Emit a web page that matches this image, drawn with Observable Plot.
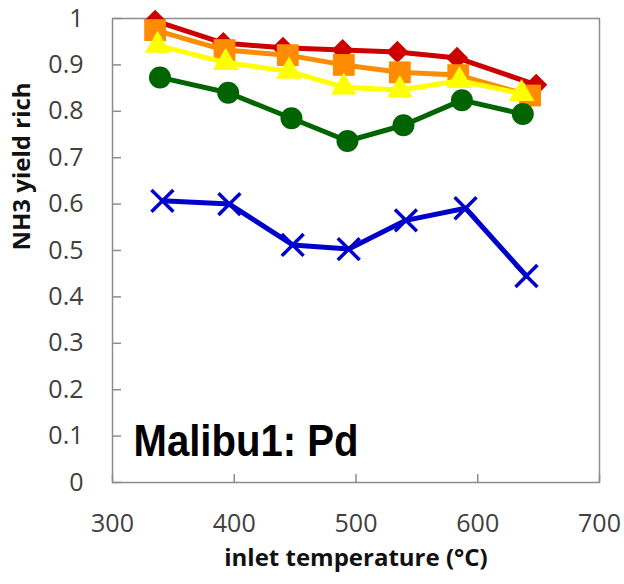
<!DOCTYPE html>
<html>
<head>
<meta charset="utf-8">
<script src="https://cdn.jsdelivr.net/npm/d3@7"></script>
<script src="https://cdn.jsdelivr.net/npm/@observablehq/plot@0.6"></script>
<style>
  html, body { margin: 0; padding: 0; background: #fff; }
</style>
</head>
<body>
<div id="chart"></div>
<script>
// ---- data ----
const xTicks = [300, 400, 500, 600, 700];
const yTicks = [0, 0.1, 0.2, 0.3, 0.4, 0.5, 0.6, 0.7, 0.8, 0.9, 1];

const redX    = [335, 391, 440, 489, 534, 583, 648];
const redY    = [0.995, 0.947, 0.937, 0.932, 0.928, 0.915, 0.857];
const orangeX = [335, 392, 444, 490, 536, 584, 643];
const orangeY = [0.975, 0.932, 0.921, 0.900, 0.884, 0.878, 0.834];
const yellowX = [337, 393, 445, 490, 536, 585, 636];
const yellowY = [0.942, 0.905, 0.886, 0.852, 0.846, 0.866, 0.838];
const greenX  = [339, 395, 447, 493, 539, 587, 637];
const greenY  = [0.873, 0.840, 0.785, 0.736, 0.770, 0.824, 0.794];
const blueX   = [341, 396, 448, 494, 541, 590, 640];
const blueY   = [0.607, 0.600, 0.512, 0.503, 0.565, 0.591, 0.445];

const xLabel = "inlet temperature (°C)";
const yLabel = "NH3 yield rich";
const annotation = "Malibu1: Pd";

// ---- build ----
const rows = (xs, ys) => xs.map((x, i) => ({x, y: ys[i]}));
const series = [
  {data: rows(redX, redY),       color: "#cc0000", symbol: "diamond2", r: 10,  filled: true},
  {data: rows(orangeX, orangeY), color: "#ff8c00", symbol: "square",   r: 12.3, filled: true},
  {data: rows(yellowX, yellowY), color: "#ffff00", symbol: "triangle", r: 9.5, filled: true},
  {data: rows(greenX, greenY),   color: "#006400", symbol: "circle",   r: 11,  filled: true},
  {data: rows(blueX, blueY),     color: "#0000cc", symbol: "times",    r: 10,  filled: false}
];

const marks = [];
for (const s of series) {
  marks.push(Plot.line(s.data, {x: "x", y: "y", stroke: s.color, strokeWidth: 5}));
  marks.push(Plot.dot(s.data, s.filled
    ? {x: "x", y: "y", symbol: s.symbol, r: s.r, fill: s.color, stroke: "none"}
    : {x: "x", y: "y", symbol: s.symbol, r: s.r, fill: "none", stroke: s.color, strokeWidth: 3.5}));
}

const chart = Plot.plot({
  width: 624,
  height: 584,
  marginLeft: 112,
  marginRight: 25,
  marginTop: 18,
  marginBottom: 102,
  style: "font-family: 'Open Sans', sans-serif; font-size: 25px; color: #404040; background: #fff; overflow: visible;",
  x: {domain: [300, 700]},
  y: {domain: [0, 1]},
  marks: [
    // tick labels
    Plot.axisY(yTicks, {anchor: "left", tickSize: 0, tickPadding: 29, fill: "#404040",
      fontSize: 25, tickFormat: d => String(+d.toFixed(1)), label: null}),
    Plot.axisX(xTicks, {anchor: "bottom", tickSize: 0, tickPadding: 32, fill: "#404040",
      fontSize: 25, tickFormat: d => String(d), label: null}),
    // inward tick marks
    Plot.axisY(yTicks, {anchor: "left", tickSize: 9, dx: 9, stroke: "#8c8c8c", strokeWidth: 1.5,
      tickFormat: () => "", label: null}),
    Plot.axisX(xTicks, {anchor: "bottom", tickSize: 8, dy: -8, stroke: "#8c8c8c", strokeWidth: 1.5,
      tickFormat: () => "", label: null}),
    Plot.frame({stroke: "#8c8c8c", strokeWidth: 1.5}),
    ...marks,
    Plot.text([annotation], {frameAnchor: "bottom-left", text: d => d, dx: 21, dy: -27,
      textAnchor: "start", lineAnchor: "bottom", fontFamily: "'Liberation Sans', Arial, sans-serif",
      fontWeight: "bold", fontSize: 44, fill: "#000"}),
    Plot.text([xLabel], {frameAnchor: "bottom", text: d => d, dy: 83, lineAnchor: "bottom",
      fontWeight: "bold", fontSize: 24, fill: "#111"}),
    Plot.text([yLabel], {frameAnchor: "left", text: d => d, dx: -90, rotate: -90, lineAnchor: "middle",
      fontWeight: "bold", fontSize: 24, fill: "#111"})
  ]
});
d3.select(chart).selectAll("text")
  .filter(function () { return this.textContent === annotation; })
  .attr("textLength", 225)
  .attr("lengthAdjust", "spacingAndGlyphs");
document.getElementById("chart").appendChild(chart);
</script>
</body>
</html>
